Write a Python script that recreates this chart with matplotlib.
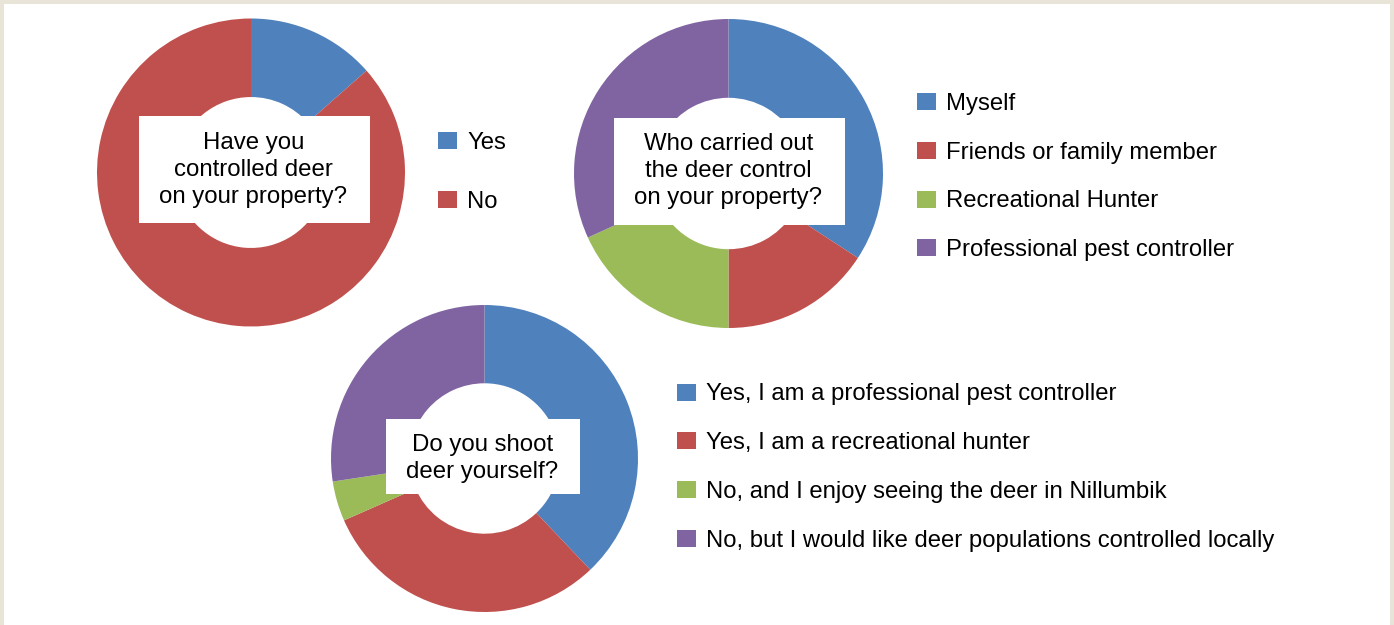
import matplotlib.pyplot as plt
import matplotlib.patches as patches

plt.rcParams['font.family'] = ['Liberation Sans', 'DejaVu Sans']

# Colours of the office palette
BLUE = '#4F81BD'
RED = '#C0504D'
GREEN = '#9BBB59'
PURPLE = '#8064A2'

# Chart 1
q1_title = 'Have you\ncontrolled deer\non your property?'
q1_labels = ['Yes', 'No']
q1_values = [13.5, 86.5]

# Chart 2
q2_title = 'Who carried out\nthe deer control\non your property?'
q2_labels = ['Myself', 'Friends or family member', 'Recreational Hunter',
             'Professional pest controller']
q2_values = [34.2, 15.8, 18.2, 31.8]

# Chart 3
q3_title = 'Do you shoot\ndeer yourself?'
q3_labels = ['Yes, I am a professional pest controller',
             'Yes, I am a recreational hunter',
             'No, and I enjoy seeing the deer in Nillumbik',
             'No, but I would like deer populations controlled locally']
q3_values = [37.9, 30.5, 4.2, 27.4]

W, H = 1394, 625
fig = plt.figure(figsize=(W / 100, H / 100), dpi=100, facecolor='#E8E4D8')

# white panel inside beige frame
bg = fig.add_axes([4 / W, 0, (1390 - 4) / W, (625 - 4) / H])
bg.set_facecolor('white')
bg.set_xticks([])
bg.set_yticks([])
for s in bg.spines.values():
    s.set_visible(False)


def donut(cx, cy, r, values, colors, title, box, text_xy, fs=17.3):
    ax = fig.add_axes([(cx - r) / W, (H - cy - r) / H, 2 * r / W, 2 * r / H])
    wedges, _ = ax.pie(values, colors=colors, startangle=90, counterclock=False,
                       radius=1, wedgeprops=dict(width=0.51, linewidth=0))
    ax.set_xlim(-1, 1)
    ax.set_ylim(-1, 1)
    ax.set_aspect('equal')
    x0, x1, y0, y1 = box
    ax.add_patch(patches.Rectangle((x0, y0), x1 - x0, y1 - y0, facecolor='white',
                                   edgecolor='none', clip_on=False, zorder=3))
    ax.text(text_xy[0], text_xy[1], title, ha='center', va='center', fontsize=fs,
            linespacing=1.27, zorder=4, color='black')
    return wedges


def legend(wedges, labels, xleft, ycenter, spacing):
    fig.legend(wedges, labels, loc='center left',
               bbox_to_anchor=(xleft / W, 1 - ycenter / H),
               frameon=False, fontsize=17.2, borderpad=0, borderaxespad=0,
               handlelength=0.78, handleheight=0.72, handletextpad=0.45,
               labelspacing=spacing)


colors2 = [BLUE, RED]
colors4 = [BLUE, RED, GREEN, PURPLE]

w1 = donut(251, 172.5, 154, q1_values, colors2, q1_title,
           (-0.727, 0.773, -0.328, 0.367), (0.016, 0.016))
legend(w1, q1_labels, 438, 172.5, 1.55)

w2 = donut(728.5, 173.5, 154.5, q2_values, colors4, q2_title,
           (-0.741, 0.754, -0.333, 0.359), (0.0, 0.016))
legend(w2, q2_labels, 917, 177, 1.12)

w3 = donut(484.5, 458.5, 153.5, q3_values, colors4, q3_title,
           (-0.642, 0.622, -0.231, 0.257), (-0.013, 0.0))
legend(w3, q3_labels, 677, 467.5, 1.12)

fig.savefig('out.png', dpi=100, facecolor=fig.get_facecolor())
